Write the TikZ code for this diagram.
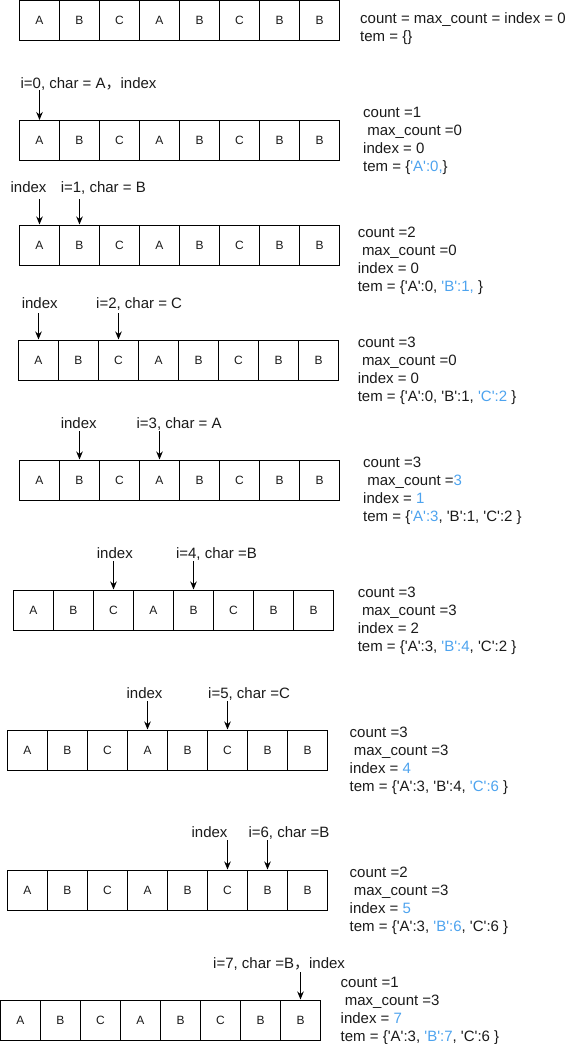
\documentclass[tikz,border=0pt]{standalone}
\usepackage{fontspec}
\setmainfont{Liberation Sans}
\newfontfamily\cjk{Noto Sans CJK SC}
\usetikzlibrary{arrows.meta}
\definecolor{hl}{HTML}{4DA3EE}
\definecolor{txt}{HTML}{1A1A1A}
\newcommand\qq{\textquotesingle}
\newcommand\hlt[1]{\textcolor{hl}{#1}}
\newcommand\ind{\hspace*{4.2pt}}
\begin{document}
\begin{tikzpicture}[x=1pt,y=-1pt,
  cell/.style={draw, line width=1pt, minimum width=40pt, minimum height=40pt, inner sep=0pt, text=txt, font=\fontsize{12}{14}\selectfont},
  lbl/.style={anchor=base west, inner sep=0pt, text=txt, font=\fontsize{15}{18}\selectfont},
  info/.style={anchor=west, inner sep=0pt, align=left, text=txt, font=\fontsize{15}{18}\selectfont},
  arr/.style={line width=1pt, -{Stealth[length=8pt,width=6.5pt]}}]
\useasboundingbox (0,0) rectangle (580,1044);
% arrays
\foreach \r/\x/\y in {1/19.5/0.5, 2/19.5/120.5, 3/19.5/225, 4/18.5/340, 5/19.5/460, 6/13.5/590, 7/7.5/730, 8/7.5/870, 9/0.5/1000} {
  \foreach \ch [count=\c from 0] in {A,B,C,A,B,C,B,B} {
    \node[cell] (r\r-\c) at (\x+20+40*\c, \y+20) {\ch};
  }
}
% row 1 info
\node[info] (i1) at (360,29) {count = max\_count = index = 0\\tem = \{\}};
% row 2
\node[lbl] (l2) at (20.4,88) {i=0, char = A{\cjk ，}index};
\coordinate (s2a) at (39.5,90);
\draw[arr] (s2a) -- (r2-0.north);
\node[info] (i2) at (363,140.5) {count =1\\\ind max\_count =0\\index = 0\\tem = \{\hlt{\qq A\qq:0,}\}};
% row 3
\node[lbl] (l3a) at (10.4,192.3) {index};
\node[lbl] (l3b) at (60.6,192.3) {i=1, char = B};
\coordinate (s3a) at (39.5,199);
\coordinate (s3b) at (79.5,199);
\draw[arr] (s3a) -- (r3-0.north);
\draw[arr] (s3b) -- (r3-1.north);
\node[info] (i3) at (357.6,261) {count =2\\\ind max\_count =0\\index = 0\\tem = \{\qq A\qq:0, \hlt{\qq B\qq:1,} \}};
% row 4
\node[lbl] (l4a) at (21.6,308) {index};
\node[lbl] (l4b) at (96,308) {i=2, char = C};
\coordinate (s4a) at (38.5,313);
\coordinate (s4b) at (118.5,313);
\draw[arr] (s4a) -- (r4-0.north);
\draw[arr] (s4b) -- (r4-2.north);
\node[info] (i4) at (357.6,370.5) {count =3\\\ind max\_count =0\\index = 0\\tem = \{\qq A\qq:0, \qq B\qq:1, \hlt{\qq C\qq:2} \}};
% row 5
\node[lbl] (l5a) at (60.6,428) {index};
\node[lbl] (l5b) at (136.4,428) {i=3, char = A};
\coordinate (s5a) at (79.5,431);
\coordinate (s5b) at (159.5,431);
\draw[arr] (s5a) -- (r5-1.north);
\draw[arr] (s5b) -- (r5-3.north);
\node[info] (i5) at (363,490.5) {count =3\\\ind max\_count =\hlt{3}\\index = \hlt{1}\\tem = \{\hlt{\qq A\qq:3}, \qq B\qq:1, \qq C\qq:2 \}};
% row 6
\node[lbl] (l6a) at (96.7,558) {index};
\node[lbl] (l6b) at (175.8,558) {i=4, char =B};
\coordinate (s6a) at (113.5,561);
\coordinate (s6b) at (193.5,561);
\draw[arr] (s6a) -- (r6-2.north);
\draw[arr] (s6b) -- (r6-4.north);
\node[info] (i6) at (357.6,620.5) {count =3\\\ind max\_count =3\\index = 2\\tem = \{\qq A\qq:3, \hlt{\qq B\qq:4}, \qq C\qq:2 \}};
% row 7
\node[lbl] (l7a) at (126.4,698) {index};
\node[lbl] (l7b) at (208,698) {i=5, char =C};
\coordinate (s7a) at (147.5,701);
\coordinate (s7b) at (227.5,701);
\draw[arr] (s7a) -- (r7-3.north);
\draw[arr] (s7b) -- (r7-5.north);
\node[info] (i7) at (349.5,760.5) {count =3\\\ind max\_count =3\\index = \hlt{4}\\tem = \{\qq A\qq:3, \qq B\qq:4, \hlt{\qq C\qq:6} \}};
% row 8
\node[lbl] (l8a) at (191.4,837.3) {index};
\node[lbl] (l8b) at (248.3,837.3) {i=6, char =B};
\coordinate (s8a) at (227.5,840);
\coordinate (s8b) at (267.5,840);
\draw[arr] (s8a) -- (r8-5.north);
\draw[arr] (s8b) -- (r8-6.north);
\node[info] (i8) at (349.5,900.5) {count =2\\\ind max\_count =3\\index = \hlt{5}\\tem = \{\qq A\qq:3, \hlt{\qq B\qq:6}, \qq C\qq:6 \}};
% row 9
\node[lbl] (l9) at (213,968) {i=7, char =B{\cjk ，}index};
\coordinate (s9a) at (300.5,972);
\draw[arr] (s9a) -- (r9-7.north);
\node[info] (i9) at (340.5,1011) {count =1\\\ind max\_count =3\\index = \hlt{7}\\tem = \{\qq A\qq:3, \hlt{\qq B\qq:7}, \qq C\qq:6 \}};
\end{tikzpicture}
\end{document}
